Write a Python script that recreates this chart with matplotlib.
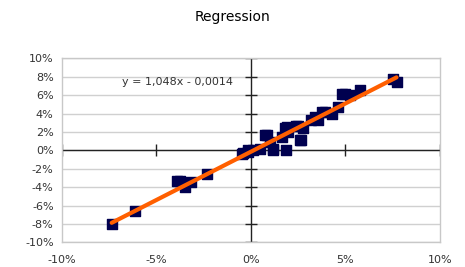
import matplotlib
matplotlib.use("Agg")
import matplotlib.pyplot as plt
from matplotlib.ticker import FuncFormatter
import numpy as np

# 산점도 데이터 (단위: %)
x_vals = [-7.37, -6.14, -3.9, -3.76, -3.5, -3.2, -2.34, -0.5, -0.4, -0.16, -0.15, 0.1, 0.48,
          0.74, 0.83, 1.0, 1.15, 1.18, 1.62, 1.8, 1.85, 1.9, 1.97, 2.4, 2.5, 2.6, 2.63, 2.77,
          3.2, 3.4, 3.56, 3.74, 3.9, 4.27, 4.62, 4.8, 4.97, 5.24, 5.77, 7.53, 7.7]
y_vals = [-7.97, -6.6, -3.3, -3.3, -4.0, -3.4, -2.6, -0.36, -0.3, -0.18, 0.0, 0.0, 0.18,
          1.63, 1.63, 0.9, 0.0, 0.18, 1.45, 2.47, 0.07, 2.5, 2.0, 2.7, 2.7, 1.1, 1.16, 2.47,
          3.26, 3.6, 3.26, 4.16, 4.2, 3.99, 4.7, 6.16, 6.16, 6.0, 6.6, 7.8, 7.4]

slope = 1.048
intercept = -0.0014
eq_text = "y = 1,048x - 0,0014"

x_ticks = [-10, -5, 0, 5, 10]
y_ticks = [-10, -8, -6, -4, -2, 0, 2, 4, 6, 8, 10]

fig = plt.figure(figsize=(4.65, 2.67), dpi=100)
ax = fig.add_axes([0.1333, 0.0918, 0.8129, 0.6898])

ax.set_xlim(-10, 10)
ax.set_ylim(-10, 10)
ax.set_xticks(x_ticks)
ax.set_yticks(y_ticks)
fmt = FuncFormatter(lambda v, p: f"{v:.0f}%")
ax.xaxis.set_major_formatter(fmt)
ax.yaxis.set_major_formatter(fmt)
ax.tick_params(length=0, labelsize=8, colors="#333333", pad=6)
ax.tick_params(axis="x", pad=9)

for s in ax.spines.values():
    s.set_color("#c8c8c8")
    s.set_linewidth(1)

ax.grid(axis="y", color="#d0d0d0", linewidth=1)
ax.set_axisbelow(True)

# 원점 축선 + 눈금
ax.axhline(0, color="#222222", linewidth=1, zorder=2)
ax.axvline(0, color="#222222", linewidth=1, zorder=2)
ax.plot(x_ticks, np.zeros(len(x_ticks)), ls="none", marker="|", ms=8, mew=1, color="#222222", zorder=2)
ax.plot(np.zeros(len(y_ticks)), y_ticks, ls="none", marker="_", ms=8, mew=1, color="#222222", zorder=2)

ax.scatter(x_vals, y_vals, marker="s", s=42, color="#00004f", edgecolors="#00004f", zorder=3)

xl = np.array([min(x_vals), max(x_vals)])
yl = slope * xl + intercept * 100
ax.plot(xl, yl, color="#ff5f00", linewidth=3, solid_capstyle="round", zorder=4)

ax.text(-3.9, 7.4, eq_text, ha="center", va="center", fontsize=8, color="#333333")

fig.text(0.5, 0.935, "Regression", ha="center", va="center", fontsize=10, color="black")

fig.savefig("out.png", dpi=100)
